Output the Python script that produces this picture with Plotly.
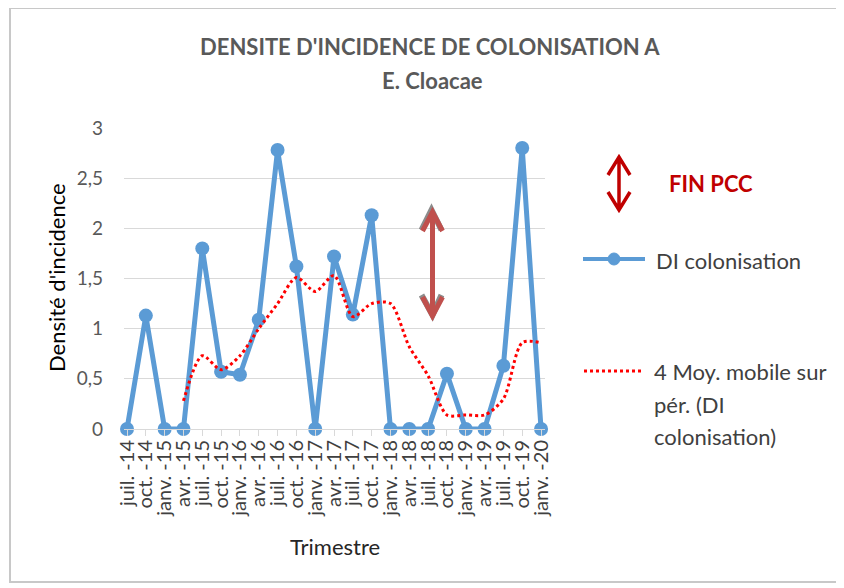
import plotly.graph_objects as go

trimestres = ["juil. -14", "oct. -14", "janv. -15", "avr. -15", "juil. -15", "oct. -15",
              "janv. -16", "avr. -16", "juil. -16", "oct. -16", "janv. -17", "avr. -17",
              "juil. -17", "oct. -17", "janv. -18", "avr. -18", "juil. -18", "oct. -18",
              "janv. -19", "avr. -19", "juil. -19", "oct. -19", "janv. -20"]
di_colonisation = [0, 1.13, 0, 0, 1.8, 0.57, 0.54, 1.09, 2.78, 1.62, 0, 1.72,
                   1.14, 2.13, 0, 0, 0, 0.55, 0, 0, 0.63, 2.8, 0]
moy_mobile = [None, None, None, 0.28, 0.73, 0.59, 0.73, 1.0, 1.25, 1.51, 1.37, 1.53,
              1.12, 1.25, 1.25, 0.82, 0.53, 0.14, 0.14, 0.14, 0.3, 0.86, 0.86]
y_ticks = [0, 0.5, 1, 1.5, 2, 2.5, 3]

OFF = 8  # page body margin
W, H = 844 - OFF, 588 - OFF
L, R, T, B = 124, 545, 128, 429   # plot area in page pixels
FONT = "Lato"


def px(x):
    return (x - L) / (R - L)


def py(y):
    return (B - y) / (B - T)


fig = go.Figure()
fig.add_trace(go.Scatter(
    x=trimestres, y=di_colonisation, mode="lines+markers", name="DI colonisation",
    line=dict(color="#5B9BD5", width=5), marker=dict(size=14, color="#5B9BD5"),
    cliponaxis=False))
fig.add_trace(go.Scatter(
    x=trimestres, y=moy_mobile, mode="lines", name="4 Moy. mobile sur pér. (DI colonisation)",
    line=dict(color="#FF0000", width=3, dash="dot", shape="spline", smoothing=0.8),
    connectgaps=False))

shapes = []
shapes.append(dict(type="rect", xref="paper", yref="paper",
                   x0=px(10), x1=px(840), y0=py(582), y1=py(8),
                   line=dict(color="#C8C8C8", width=2), layer="below"))


def arrow(cx, top, bot, half, head, color, width, shadow=None):
    out = []
    path = (f"M {px(cx)},{py(top)} L {px(cx)},{py(bot)} "
            f"M {px(cx-half)},{py(top+head)} L {px(cx)},{py(top)} L {px(cx+half)},{py(top+head)} "
            f"M {px(cx-half)},{py(bot-head)} L {px(cx)},{py(bot)} L {px(cx+half)},{py(bot-head)}")
    if shadow:
        sp = (f"M {px(cx-half-1)},{py(top+head-1)} L {px(cx-1)},{py(top-2)} L {px(cx+half-1)},{py(top+head-1)} "
              f"M {px(cx-half-1)},{py(bot-head-2)} L {px(cx)},{py(bot-1)} L {px(cx+half-1)},{py(bot-head-2)}")
        out.append(dict(type="path", xref="paper", yref="paper", path=sp,
                        line=dict(color=shadow, width=width + 1)))
    out.append(dict(type="path", xref="paper", yref="paper", path=path,
                    line=dict(color=color, width=width)))
    return out


shapes += arrow(432.5, 212, 316, 10, 19, "#C0504D", 5, shadow="#8C8C8C")
shapes += arrow(619, 157, 210, 11, 18, "#C00000", 3.5)

shapes.append(dict(type="line", xref="paper", yref="paper", x0=px(583), x1=px(645),
                   y0=py(259), y1=py(259), line=dict(color="#5B9BD5", width=4)))
shapes.append(dict(type="circle", xref="paper", yref="paper", x0=px(608), x1=px(620),
                   y0=py(265), y1=py(253), fillcolor="#5B9BD5", line=dict(color="#5B9BD5", width=1)))
shapes.append(dict(type="line", xref="paper", yref="paper", x0=px(584), x1=px(643),
                   y0=py(371), y1=py(371), line=dict(color="#FF0000", width=3, dash="dot")))

annotations = []


def text(x, y, s, size=18, color="#404040", xanchor="left", bold=False, angle=0):
    annotations.append(dict(x=px(x), y=py(y), xref="paper", yref="paper", text=f"<b>{s}</b>" if bold else s,
                            showarrow=False, xanchor=xanchor, yanchor="middle", textangle=angle,
                            font=dict(family=FONT, size=size, color=color)))


text(430, 46, "DENSITE D'INCIDENCE DE COLONISATION A", size=22, color="#595959", xanchor="center", bold=True)
text(432, 80, "E. Cloacae", size=22, color="#595959", xanchor="center", bold=True)
text(711, 183, "FIN PCC", size=22, color="#C00000", xanchor="center", bold=True)
text(654, 260, "DI colonisation", size=22)
text(652, 371, "4 Moy. mobile sur", size=22)
text(652, 404, "pér. (DI", size=22)
text(652, 436, "colonisation)", size=22)
text(335, 546, "Trimestre", size=22, color="#262626", xanchor="center")
text(56, 278, "Densité d'incidence", size=22, color="#000000", xanchor="center", angle=-90)

fig.update_layout(
    width=W, height=H,
    margin=dict(l=L - OFF, r=(W + OFF) - R, t=T - OFF, b=(H + OFF) - B, autoexpand=False),
    paper_bgcolor="white", plot_bgcolor="white",
    separators=", ",
    showlegend=False,
    font=dict(family=FONT, color="#404040"),
    shapes=shapes, annotations=annotations,
    xaxis=dict(type="category", range=[-0.16, 22.21], tickangle=-90,
               tickmode="array", tickvals=trimestres, ticktext=trimestres,
               tickfont=dict(family=FONT, size=20, color="#404040"),
               showgrid=False, showline=True, linecolor="#D9D9D9", linewidth=1,
               ticks="outside", ticklen=6, tickcolor="#D9D9D9", zeroline=False,
               ticklabelstandoff=-4, automargin=False),
    yaxis=dict(range=[0, 3], tickvals=y_ticks, showgrid=True, gridcolor="#D9D9D9",
               gridwidth=1, zeroline=False, showline=False,
               tickfont=dict(family=FONT, size=19, color="#595959"),
               ticklabelstandoff=20, automargin=False),
)

fig.write_html("out.html")
